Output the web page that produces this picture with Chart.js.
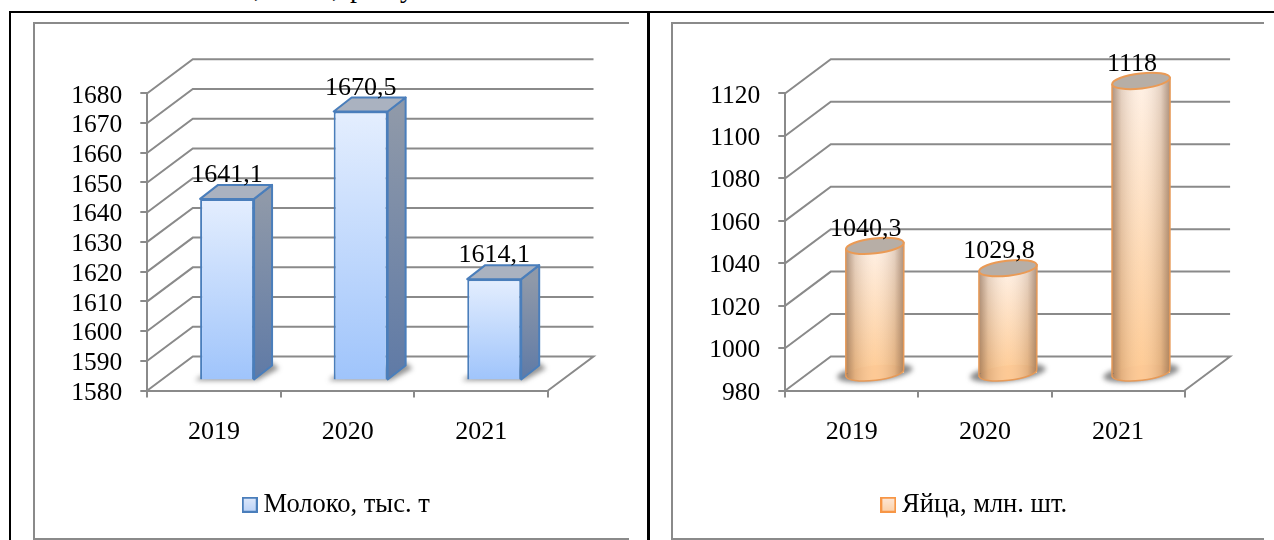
<!DOCTYPE html>
<html lang="ru">
<head>
<meta charset="utf-8">
<title>Молоко и яйца</title>
<script src="https://cdn.jsdelivr.net/npm/chart.js@4"></script>
<style>
html,body{margin:0;padding:0;background:#fff;width:1274px;height:540px;overflow:hidden;font-family:"Liberation Serif",serif}
.line{position:absolute;background:#000}
.frame{position:absolute;background:#8a8a8a}
canvas{position:absolute;display:block;filter:blur(.35px)}
.clip{position:absolute;top:-27px;font:28px/30px "Liberation Serif",serif;color:#000}
</style>
</head>
<body>
<span class="clip" style="left:254px">,</span>
<span class="clip" style="left:332px">,</span>
<span class="clip" style="left:350px">р</span>
<span class="clip" style="left:400px">у</span>
<div class="line" style="left:9px;top:11px;width:1265px;height:2px"></div>
<div class="line" style="left:9px;top:11px;width:2px;height:529px"></div>
<div class="line" style="left:647px;top:11px;width:3px;height:529px"></div>
<div class="frame" style="left:33px;top:22px;width:596px;height:2px"></div>
<div class="frame" style="left:33px;top:22px;width:2px;height:518px"></div>
<div class="frame" style="left:33px;top:538px;width:596px;height:2px"></div>
<div class="frame" style="left:671px;top:22px;width:593px;height:2px"></div>
<div class="frame" style="left:671px;top:22px;width:2px;height:518px"></div>
<div class="frame" style="left:671px;top:538px;width:593px;height:2px"></div>
<canvas id="milk" width="595" height="516" style="left:34px;top:23px"></canvas>
<canvas id="eggs" width="592" height="516" style="left:672px;top:23px"></canvas>
<script>
const categories = ['2019', '2020', '2021'];
const milkValues = [1641.1, 1670.5, 1614.1];
const eggValues = [1040.3, 1029.8, 1118];
const milkLabel = 'Молоко, тыс. т';
const eggLabel = 'Яйца, млн. шт.';

const GRAY = '#8a8a8a';
const FONT = '"Liberation Serif", serif';
const fmt = v => String(v).replace('.', ',');

function wallPlugin(dx, dy) {
  return {
    id: 'wall',
    beforeDatasetsDraw(chart) {
      const c = chart.ctx, ys = chart.scales.y, xs = chart.scales.x;
      c.save();
      c.strokeStyle = GRAY; c.lineWidth = 2; c.lineCap = 'butt';
      ys.ticks.forEach(t => {
        const y = ys.getPixelForValue(t.value);
        c.beginPath();
        c.moveTo(xs.left, y);
        c.lineTo(xs.left + dx, y + dy);
        c.lineTo(xs.right + dx, y + dy);
        if (t.value === ys.min) c.lineTo(xs.right, y);
        c.stroke();
      });
      c.restore();
    }
  };
}

function boxPlugin(ox, oy, dd, dh) {
  return {
    id: 'box',
    beforeDatasetsDraw(chart) {
      const c = chart.ctx, bars = chart.getDatasetMeta(0).data;
      c.save();
      c.translate(ox, oy);
      bars.forEach(b => {
        const x0 = b.x - b.width / 2, x1 = b.x + b.width / 2;
        c.save();
        c.filter = 'blur(2.5px)';
        c.fillStyle = 'rgba(60,60,60,.55)';
        c.beginPath();
        c.moveTo(x0 - 5, b.base + 1);
        c.lineTo(x1 + 3, b.base + 1);
        c.lineTo(x1 + dd + 7, b.base + dh + 3);
        c.lineTo(x1 + dd, b.base + dh - 3);
        c.lineTo(x0, b.base - 3);
        c.closePath();
        c.fill();
        c.restore();
        const g = c.createLinearGradient(0, b.y, 0, b.base);
        g.addColorStop(0, '#8f99a9');
        g.addColorStop(1, '#5f7aa6');
        c.lineWidth = 2; c.strokeStyle = '#4a7ebb'; c.lineJoin = 'round';
        c.fillStyle = g;
        c.beginPath();
        c.moveTo(x1, b.y); c.lineTo(x1 + dd, b.y + dh);
        c.lineTo(x1 + dd, b.base + dh); c.lineTo(x1, b.base);
        c.closePath(); c.fill(); c.stroke();
        c.fillStyle = '#aab2c0';
        c.beginPath();
        c.moveTo(x0, b.y); c.lineTo(x0 + dd, b.y + dh);
        c.lineTo(x1 + dd, b.y + dh); c.lineTo(x1, b.y);
        c.closePath(); c.fill(); c.stroke();
      });
      c.restore();
      c.save();
      c.translate(ox, oy);
    },
    afterDatasetsDraw(chart) {
      const c = chart.ctx, bars = chart.getDatasetMeta(0).data, ds = chart.data.datasets[0].data;
      c.restore();
      c.save();
      c.font = '26px ' + FONT; c.fillStyle = '#000';
      c.textAlign = 'center'; c.textBaseline = 'alphabetic';
      bars.forEach((b, i) => c.fillText(fmt(ds[i]), b.x + ox, b.y + oy - 17));
      c.restore();
    }
  };
}

function cylinderPlugin(ox, oy, ry, tilt) {
  const ell = (c, x, y, rx) => { c.beginPath(); c.ellipse(x, y, rx, ry, tilt, 0, Math.PI * 2); };
  return {
    id: 'cyl',
    beforeDatasetsDraw(chart) {
      const c = chart.ctx, bars = chart.getDatasetMeta(0).data;
      c.save();
      c.translate(ox, oy);
      bars.forEach(b => {
        c.save();
        c.filter = 'blur(2.5px)';
        c.fillStyle = 'rgba(60,60,60,.6)';
        c.beginPath();
        c.ellipse(b.x, b.base, b.width / 2 + 9, ry + 1, tilt, 0, Math.PI * 2);
        c.fill();
        c.restore();
      });
    },
    afterDatasetsDraw(chart) {
      const c = chart.ctx, bars = chart.getDatasetMeta(0).data, ds = chart.data.datasets[0].data;
      bars.forEach(b => {
        const rx = b.width / 2, x0 = b.x - rx, x1 = b.x + rx;
        const t = Math.tan(tilt) * rx;
        c.fillStyle = '#fdc68f';
        ell(c, b.x, b.base, rx);
        c.fill();
        const path = new Path2D();
        path.moveTo(x0, b.y - t);
        path.lineTo(x0, b.base - t);
        path.ellipse(b.x, b.base, rx, ry, tilt, Math.PI, 0, true);
        path.lineTo(x1, b.y + t);
        path.closePath();
        const g = c.createLinearGradient(x0, 0, x1, 0);
        g.addColorStop(0, 'rgba(120,85,60,.6)');
        g.addColorStop(.16, 'rgba(120,85,60,.2)');
        g.addColorStop(.5, 'rgba(255,255,255,.05)');
        g.addColorStop(.84, 'rgba(120,85,60,.2)');
        g.addColorStop(1, 'rgba(120,85,60,.6)');
        c.fillStyle = g;
        c.fill(path);
        c.strokeStyle = '#e79a58'; c.lineWidth = 1.5;
        c.stroke(path);
        c.fillStyle = '#b7aea6';
        c.strokeStyle = '#ea9a55'; c.lineWidth = 2;
        ell(c, b.x, b.y, rx);
        c.fill(); c.stroke();
      });
      c.restore();
      c.save();
      c.font = '26px ' + FONT; c.fillStyle = '#000';
      c.textAlign = 'center'; c.textBaseline = 'alphabetic';
      bars.forEach((b, i) => c.fillText(fmt(ds[i]), b.x + ox - 9, b.y + oy - 10));
      c.restore();
    }
  };
}

function legendMarker(top, bottom, line) {
  const m = document.createElement('canvas');
  m.width = 16; m.height = 16;
  const c = m.getContext('2d');
  const g = c.createLinearGradient(0, 0, 0, 16);
  g.addColorStop(0, top); g.addColorStop(1, bottom);
  c.fillStyle = g; c.fillRect(1, 1, 14, 14);
  c.strokeStyle = line; c.lineWidth = 2; c.strokeRect(1, 1, 14, 14);
  return m;
}

function makeChart(id, label, values, yMin, yMax, step, barPct, leftPad, rightGap, marker, barOpts, plugins) {
  return new Chart(document.getElementById(id), {
    type: 'bar',
    data: { labels: categories, datasets: [Object.assign({ label, data: values, base: yMin, clip: false, barPercentage: barPct, categoryPercentage: 1 }, barOpts)] },
    plugins,
    options: {
      responsive: false, animation: false, devicePixelRatio: 1,
      layout: { padding: { top: 70.3, right: 0, bottom: 11, left: leftPad } },
      plugins: {
        tooltip: { enabled: false },
        legend: {
          position: 'bottom',
          labels: {
            font: { family: FONT, size: 26.5 }, color: '#000', boxWidth: 1, boxHeight: 14, padding: 8,
            usePointStyle: true,
            generateLabels: chart => [{ text: label, pointStyle: marker, datasetIndex: 0 }]
          }
        }
      },
      scales: {
        x: {
          grid: { drawOnChartArea: false, drawTicks: true, tickLength: 7, color: GRAY, lineWidth: 2, offset: true },
          border: { color: GRAY, width: 2 },
          ticks: { font: { family: FONT, size: 26 }, color: '#000', padding: 19, maxRotation: 0 },
          afterFit: s => { s.height = 93; }
        },
        y: {
          min: yMin, max: yMax,
          grid: { drawOnChartArea: false, drawTicks: true, tickLength: 7, color: GRAY, lineWidth: 2 },
          border: { color: GRAY, width: 2 },
          ticks: { font: { family: FONT, size: 25.5, lineHeight: 0.2 }, color: '#000', padding: 18, stepSize: step, autoSkip: false, callback: v => ['', String(v)] },
          afterFit: s => { s.width = 113.3 - leftPad; }
        },
        gap: {
          type: 'linear', position: 'right', display: true,
          grid: { display: false }, border: { display: false }, ticks: { display: false },
          afterFit: s => { s.width = rightGap; }
        }
      }
    }
  });
}

const vGrad = (ctx, top, bot) => {
  const s = ctx.chart.scales.y;
  const y0 = s.getPixelForValue(ctx.parsed ? ctx.parsed.y : s.max), y1 = s.getPixelForValue(s.min);
  const g = ctx.chart.ctx.createLinearGradient(0, y0, 0, y1);
  g.addColorStop(0, top); g.addColorStop(1, bot);
  return g;
};

makeChart('milk', milkLabel, milkValues, 1580, 1680, 10, 0.404, 16, 81, legendMarker('#dfe9fb', '#b9d1f7', '#4a7ebb'),
  { backgroundColor: ctx => vGrad(ctx, '#e4eefe', '#9fc4fb'), borderColor: '#4a7ebb', borderWidth: 2 },
  [wallPlugin(45.5, -34), boxPlugin(13, -10, 18, -14)]);

makeChart('eggs', eggLabel, eggValues, 980, 1120, 20, 0.436, 19, 79.4, legendMarker('#fde9da', '#fbcfa6', '#f79646'),
  { backgroundColor: ctx => vGrad(ctx, '#fff0e4', '#fec88f'), borderWidth: 0 },
  [wallPlugin(45.5, -34), cylinderPlugin(23, -16.6, 7.5, -0.115)]);
</script>
</body>
</html>
